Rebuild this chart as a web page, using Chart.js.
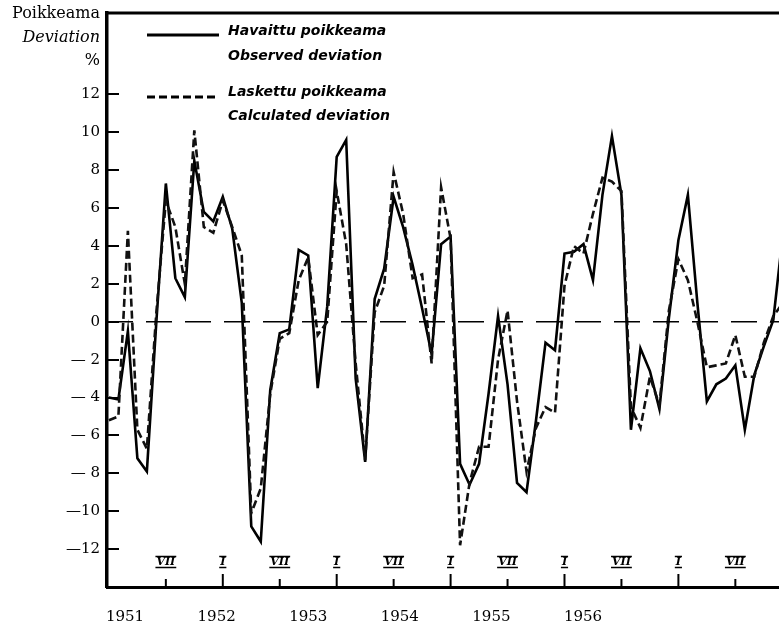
<!DOCTYPE html>
<html>
<head>
<meta charset="utf-8">
<script src="https://cdn.jsdelivr.net/npm/chart.js@4.4.0/dist/chart.umd.min.js"></script>
<style>
html,body{margin:0;padding:0;background:#fff;}
#wrap{width:779px;height:631px;position:relative;}
</style>
</head>
<body>
<div id="wrap"><canvas id="c" width="779" height="631"></canvas></div>
<script>
// Years shown under the axis
const years = [1951, 1952, 1953, 1954, 1955, 1956];
// Monthly series, Jan 1951 = index 0
const observed = [
  -4.0, -4.1, -0.5, -7.2, -7.9, 0.0, 7.3, 2.3, 1.3, 8.5, 5.8, 5.3,
  6.6, 4.9, 1.0, -10.8, -11.6, -3.6, -0.6, -0.4, 3.8, 3.5, -3.5, 0.8,
  8.7, 9.6, -3.0, -7.4, 1.2, 2.8, 6.6, 5.0, 3.0, 0.7, -1.7, 4.1,
  4.5, -7.5, -8.6, -7.5, -3.8, 0.3, -3.3, -8.5, -9.0, -5.2, -1.1, -1.5,
  3.6, 3.7, 4.1, 2.2, 6.7, 9.8, 6.7, -5.7, -1.4, -2.6, -4.6, 0.2,
  4.3, 6.7, 1.0, -4.2, -3.3, -3.0, -2.3, -5.7, -2.8, -1.3, 0.1, 4.6
];
const calculated = [
  -5.2, -5.0, 4.8, -5.7, -6.7, 0.5, 6.4, 5.0, 2.0, 10.1, 5.0, 4.7,
  6.4, 5.0, 3.5, -10.1, -8.8, -3.8, -0.9, -0.6, 2.2, 3.4, -0.7, 0.0,
  6.9, 4.1, -2.2, -7.3, 0.5, 1.9, 7.9, 5.7, 2.3, 2.5, -2.2, 7.1,
  4.4, -11.8, -8.5, -6.6, -6.6, -2.0, 0.6, -4.2, -7.9, -5.6, -4.5, -4.8,
  1.9, 4.0, 3.6, 5.7, 7.6, 7.4, 6.9, -4.5, -5.6, -2.9, -4.4, 0.6,
  3.3, 2.2, 0.0, -2.4, -2.3, -2.2, -0.7, -2.9, -2.9, -1.1, 0.3, 1.0
];
// Y tick values
const yTicks = [12, 10, 8, 6, 4, 2, 0, -2, -4, -6, -8, -10, -12];
// Roman month marks (month index, label)
const romanMonths = [6, 12, 18, 24, 30, 36, 42, 48, 54, 60, 66];
const romanLabels = ['VII', 'I', 'VII', 'I', 'VII', 'I', 'VII', 'I', 'VII', 'I', 'VII'];
// Legend text
const legendText = [
  ['Havaittu poikkeama', 'Observed deviation'],
  ['Laskettu poikkeama', 'Calculated deviation']
];
const axisTitle = ['Poikkeama', 'Deviation', '%'];

const toXY = arr => arr.map((v, i) => ({x: i, y: v}));

const SERIF = '"DejaVu Serif", "Liberation Serif", serif';
const HAND = '"DejaVu Sans", sans-serif';

const decorPlugin = {
  id: 'decor',
  afterDraw(chart) {
    const ctx = chart.ctx;
    const a = chart.chartArea;
    const xs = chart.scales.x;
    ctx.save();
    // top border
    ctx.strokeStyle = '#000';
    ctx.lineWidth = 3;
    ctx.beginPath();
    ctx.moveTo(a.left - 1.5, a.top);
    ctx.lineTo(a.right, a.top);
    ctx.stroke();

    // roman month marks
    romanMonths.forEach((m, i) => {
      const px = xs.getPixelForValue(m);
      const lab = romanLabels[i];
      const isJan = lab === 'I';
      ctx.lineWidth = 2;
      ctx.beginPath();
      ctx.moveTo(px, a.bottom);
      ctx.lineTo(px, a.bottom - (isJan ? 13 : 8));
      ctx.stroke();
      ctx.font = 'italic bold 11px ' + SERIF;
      ctx.fillStyle = '#000';
      ctx.textAlign = 'center';
      ctx.textBaseline = 'middle';
      ctx.fillText(lab, px, 562);
      const w = ctx.measureText(lab).width;
      ctx.lineWidth = 1.5;
      ctx.beginPath();
      ctx.moveTo(px - w / 2 - 1, 556.5);
      ctx.lineTo(px + w / 2 + 1, 556.5);
      ctx.moveTo(px - w / 2 - 1, 567.5);
      ctx.lineTo(px + w / 2 + 1, 567.5);
      ctx.stroke();
    });

    // axis title (top-left)
    ctx.fillStyle = '#000';
    ctx.textAlign = 'right';
    ctx.textBaseline = 'middle';
    ctx.font = '16px ' + SERIF;
    ctx.fillText(axisTitle[0], 100, 14);
    ctx.font = 'italic 16px ' + SERIF;
    ctx.fillText(axisTitle[1], 100, 38);
    ctx.font = '16px ' + SERIF;
    ctx.fillText(axisTitle[2], 100, 61);

    // legend
    ctx.lineWidth = 3;
    ctx.setLineDash([]);
    ctx.beginPath();
    ctx.moveTo(147, 35);
    ctx.lineTo(219, 35);
    ctx.stroke();
    ctx.setLineDash([8, 4]);
    ctx.beginPath();
    ctx.moveTo(147, 97);
    ctx.lineTo(219, 97);
    ctx.stroke();
    ctx.setLineDash([]);
    ctx.textAlign = 'left';
    ctx.font = 'italic bold 14px ' + HAND;
    ctx.fillText(legendText[0][0], 228, 31);
    ctx.fillText(legendText[0][1], 228, 56);
    ctx.fillText(legendText[1][0], 228, 92);
    ctx.fillText(legendText[1][1], 228, 116);
    ctx.restore();
  }
};

new Chart(document.getElementById('c'), {
  type: 'line',
  data: {
    datasets: [
      {
        label: 'zero',
        data: [{x: -0.2, y: 0}, {x: 70.6, y: 0}],
        borderColor: '#000',
        borderWidth: 1.5,
        borderDash: [26, 13],
        pointRadius: 0,
        xAxisID: 'x', yAxisID: 'y'
      },
      {
        label: 'Calculated deviation',
        data: toXY(calculated),
        borderColor: '#111',
        borderWidth: 2.6,
        borderDash: [8, 4],
        pointRadius: 0,
        tension: 0,
        xAxisID: 'x', yAxisID: 'y'
      },
      {
        label: 'Observed deviation',
        data: toXY(observed),
        borderColor: '#000',
        borderWidth: 2.6,
        pointRadius: 0,
        tension: 0,
        xAxisID: 'x', yAxisID: 'y'
      }
    ]
  },
  options: {
    responsive: false,
    animation: false,
    devicePixelRatio: 1,
    layout: {padding: {top: 13, right: 0, left: 0, bottom: 0}},
    plugins: {legend: {display: false}, tooltip: {enabled: false}},
    scales: {
      x: {
        type: 'linear',
        min: -0.2,
        max: 70.6,
        display: false
      },
      x2: {
        type: 'linear',
        position: 'bottom',
        min: 1950.803,
        max: 1958.14,
        grid: {display: false, drawTicks: false},
        border: {display: true, width: 3, color: '#000'},
        afterBuildTicks: s => { s.ticks = years.map(v => ({value: v})); },
        afterFit: s => { s.height = 44; s.paddingLeft = 0; s.paddingRight = 0; },
        ticks: {
          color: '#000',
          font: {family: SERIF, size: 15},
          padding: 21,
          autoSkip: false,
          maxRotation: 0,
          callback: v => String(v)
        }
      },
      y: {
        type: 'linear',
        min: -14,
        max: 16.3,
        afterBuildTicks: s => { s.ticks = yTicks.map(v => ({value: v})); },
        afterFit: s => { s.width = 107; s.paddingTop = 0; s.paddingBottom = 0; },
        grid: {drawOnChartArea: false, drawTicks: true, tickLength: -12, lineWidth: 2, color: '#000'},
        border: {display: true, width: 3.5, color: '#000'},
        ticks: {
          color: '#000',
          font: {family: SERIF, size: 15},
          padding: 19,
          autoSkip: false,
          callback: v => v < 0 ? (Math.abs(v) < 10 ? '\u2014 ' + Math.abs(v) : '\u2014' + Math.abs(v)) : String(v)
        }
      }
    }
  },
  plugins: [decorPlugin]
});
</script>
</body>
</html>
